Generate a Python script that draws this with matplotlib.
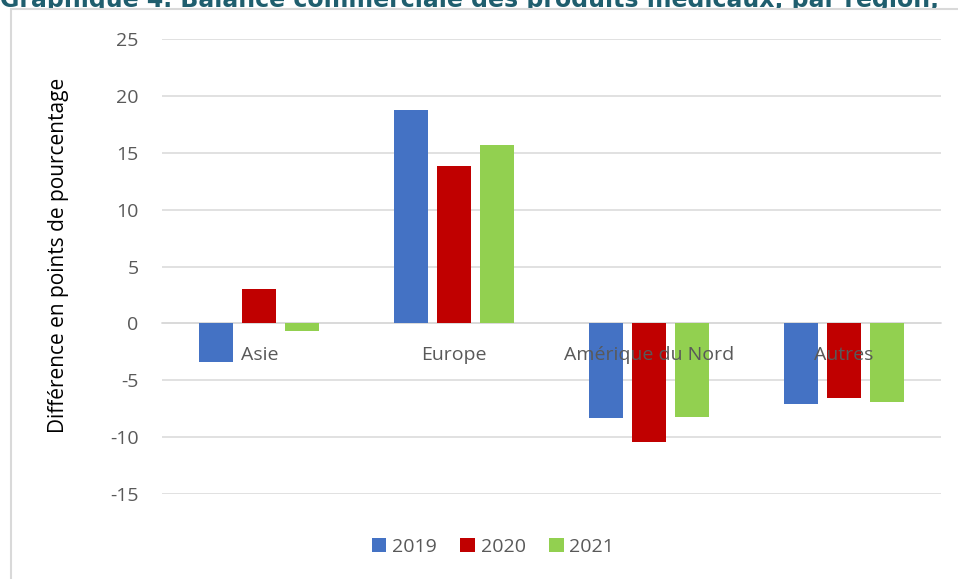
import numpy as np
import matplotlib
matplotlib.use("Agg")
from matplotlib import pyplot as plt
from matplotlib.patches import Rectangle

# data
regions = ["Asie", "Europe", "Amérique du Nord", "Autres"]
years = ["2019", "2020", "2021"]
v2019 = [-3.4, 18.8, -8.3, -7.1]
v2020 = [3.0, 13.8, -10.4, -6.6]
v2021 = [-0.7, 15.7, -8.2, -6.9]
colors = ["#4472C4", "#C00000", "#92D050"]

plt.rcParams['font.family'] = ['Open Sans', 'DejaVu Sans']
plt.rcParams['axes.unicode_minus'] = False

fig = plt.figure(figsize=(9.58, 5.79), dpi=100)

# title, partly hidden behind the chart frame
fig.text(0.0, 1 - 6.5 / 579, "Graphique 4. Balance commerciale des produits médicaux, par région,",
         fontsize=17, fontweight='bold', color='#1F5E6E', family='DejaVu Sans',
         ha='left', va='baseline', zorder=1)
frame = Rectangle((11 / 958, -0.1), 1.2, 1 - 9 / 579 + 0.1, transform=fig.transFigure,
                  facecolor='white', edgecolor='#D9D9D9', linewidth=1.5, zorder=2)
fig.patches.append(frame)

ax = fig.add_axes([162 / 958, 1 - 494 / 579, (941 - 162) / 958, (494 - 39) / 579])
ax.set_zorder(5)
ax.patch.set_alpha(0)

x = np.arange(len(regions))
w = 0.175
step = 0.221
for i, (vals, yr) in enumerate(zip([v2019, v2020, v2021], years)):
    ax.bar(x + (i - 1) * step, vals, w, color=colors[i], label=yr, zorder=3)

ax.set_xlim(-0.5, len(regions) - 0.5)
ax.set_ylim(-15, 25)
ax.set_yticks(np.arange(-15, 26, 5))
ax.yaxis.grid(True, color='#D9D9D9', linewidth=1.1, zorder=0)
ax.set_axisbelow(True)

for s in ['top', 'right', 'left']:
    ax.spines[s].set_visible(False)
ax.spines['bottom'].set_position(('data', 0))
ax.spines['bottom'].set_color('#D9D9D9')
ax.spines['bottom'].set_linewidth(1.1)

# category labels sit just under the zero line, drawn over the bars
ax.set_xticks(x)
ax.set_xticklabels([])
ax.tick_params(axis='x', length=0)
for xi, name in zip(x, regions):
    ax.annotate(name, (xi, 0), xytext=(0, -16), textcoords='offset points',
                ha='center', va='top', fontsize=14, color='#595959', zorder=10)

ax.tick_params(axis='y', length=0, pad=17, labelsize=14, labelcolor='#595959')

ax.set_ylabel("Différence en points de pourcentage", fontsize=15, color='black')
ax.yaxis.set_label_coords(-0.12, 0.525)

ax.legend(loc='center', bbox_to_anchor=(493 / 958, 1 - 547 / 579), bbox_transform=fig.transFigure,
          ncol=3, frameon=False, fontsize=14, handlelength=0.75, handleheight=0.75,
          handletextpad=0.3, columnspacing=1.2, labelcolor='#595959')

fig.savefig("out.png", dpi=100)
